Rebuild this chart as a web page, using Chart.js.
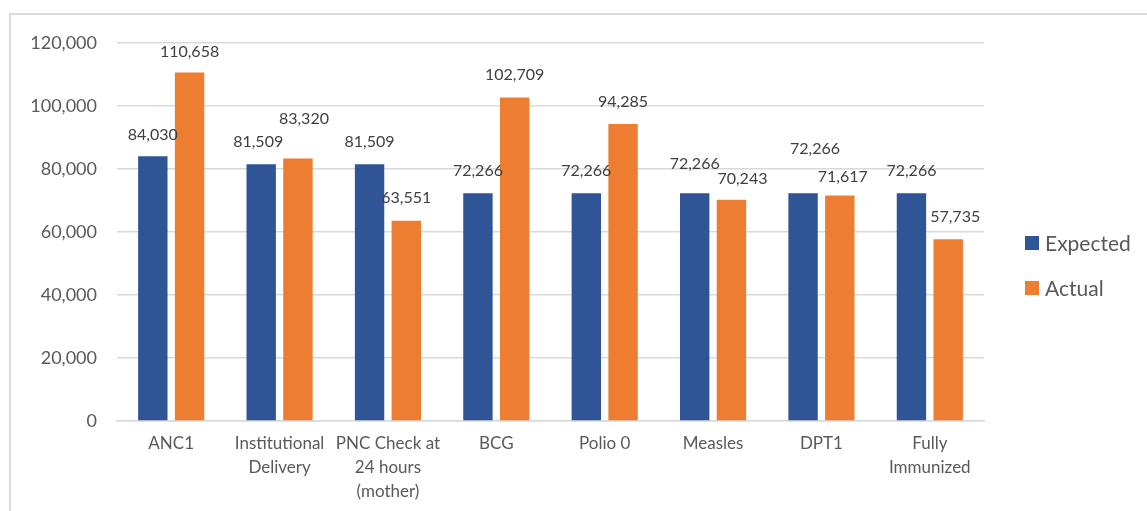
<!DOCTYPE html>
<html>
<head>
<meta charset="utf-8">
<title>Expected vs Actual service coverage</title>
<script src="https://cdn.jsdelivr.net/npm/chart.js@4.4.1/dist/chart.umd.min.js"></script>
<style>
  html, body { margin: 0; padding: 0; background: #ffffff; }
  #wrap { position: relative; width: 1147px; height: 511px; overflow: hidden; }
  #frame {
    position: absolute; left: 9px; top: 13px; width: 1200px; height: 560px;
    border-left: 2px solid #d9d9d9; border-top: 2px solid #d9d9d9; box-sizing: border-box;
  }
  #chart { position: absolute; left: 0; top: 0; }
</style>
</head>
<body>
<div id="wrap">
  <div id="frame"></div>
  <canvas id="chart" width="1147" height="511"></canvas>
</div>
<script>
// Indicators (multi-line category labels)
const categories = [
  'ANC1',
  ['Institutional', 'Delivery'],
  ['PNC Check at', '24 hours', '(mother)'],
  'BCG',
  'Polio 0',
  'Measles',
  'DPT1',
  ['Fully', 'Immunized']
];
const seriesNames = ['Expected', 'Actual'];
const expectedValues = [84030, 81509, 81509, 72266, 72266, 72266, 72266, 72266];
const actualValues   = [110658, 83320, 63551, 102709, 94285, 70243, 71617, 57735];
const yTickValues = [0, 20000, 40000, 60000, 80000, 100000, 120000];

// Small per-label nudges [dx, dy] in px so overlapping value labels stay readable
const expectedLabelNudge = [[0, 1], [-3, 0], [0, 0], [0, 0], [0, 0], [0, -7], [12, -22], [0, 0]];
const actualLabelNudge   = [[0, 2], [6, -17], [0, 0], [0, 0], [0, 0], [11, 2], [3, 4], [7, 0]];

const COLORS = ['#2F5597', '#ED7D31'];
const FONT = 'Lato, "Liberation Sans", sans-serif';
const fmt = v => v.toLocaleString('en-US');

const valueLabels = {
  id: 'valueLabels',
  afterDatasetsDraw(chart) {
    const ctx = chart.ctx;
    const nudges = [expectedLabelNudge, actualLabelNudge];
    ctx.save();
    ctx.font = '16px ' + FONT;
    ctx.fillStyle = '#404040';
    ctx.textAlign = 'center';
    ctx.textBaseline = 'middle';
    chart.data.datasets.forEach((ds, di) => {
      chart.getDatasetMeta(di).data.forEach((bar, i) => {
        const n = nudges[di][i];
        ctx.fillText(fmt(ds.data[i]), bar.x + n[0], bar.y - 22.5 + n[1]);
      });
    });
    ctx.restore();
  }
};

const sideLegend = {
  id: 'sideLegend',
  afterDraw(chart) {
    const ctx = chart.ctx;
    ctx.save();
    ctx.font = '21px ' + FONT;
    ctx.textBaseline = 'middle';
    ctx.textAlign = 'left';
    chart.data.datasets.forEach((ds, i) => {
      const cy = 243 + i * 45;
      ctx.fillStyle = ds.backgroundColor;
      ctx.fillRect(1025, cy - 7, 14, 14);
      ctx.fillStyle = '#595959';
      ctx.fillText(ds.label, 1045, cy + 1);
    });
    ctx.restore();
  }
};

new Chart(document.getElementById('chart'), {
  type: 'bar',
  data: {
    labels: categories,
    datasets: [
      { label: seriesNames[0], data: expectedValues, backgroundColor: COLORS[0] },
      { label: seriesNames[1], data: actualValues, backgroundColor: COLORS[1] }
    ]
  },
  options: {
    responsive: false,
    animation: false,
    events: [],
    layout: { padding: { left: 0, right: 163, top: 43, bottom: 0 } },
    datasets: { bar: { categoryPercentage: 0.678, barPercentage: 0.80 } },
    plugins: { legend: { display: false }, tooltip: { enabled: false } },
    scales: {
      x: {
        grid: { display: false, drawTicks: false },
        border: { display: true, color: '#d9d9d9', width: 1.5 },
        ticks: {
          color: '#595959',
          font: { family: FONT, size: 17, lineHeight: 24 / 17 },
          padding: 11,
          maxRotation: 0,
          autoSkip: false
        },
        afterFit(scale) { scale.height = 90; }
      },
      y: {
        min: 0, max: 120000,
        afterBuildTicks(scale) { scale.ticks = yTickValues.map(v => ({ value: v })); },
        grid: { color: '#d9d9d9', lineWidth: 1.5, drawTicks: false },
        border: { display: false },
        ticks: {
          color: '#595959',
          font: { family: FONT, size: 18 },
          padding: 20,
          callback: v => fmt(v)
        },
        afterFit(scale) { scale.width = 117; }
      }
    }
  },
  plugins: [valueLabels, sideLegend]
});
</script>
</body>
</html>
